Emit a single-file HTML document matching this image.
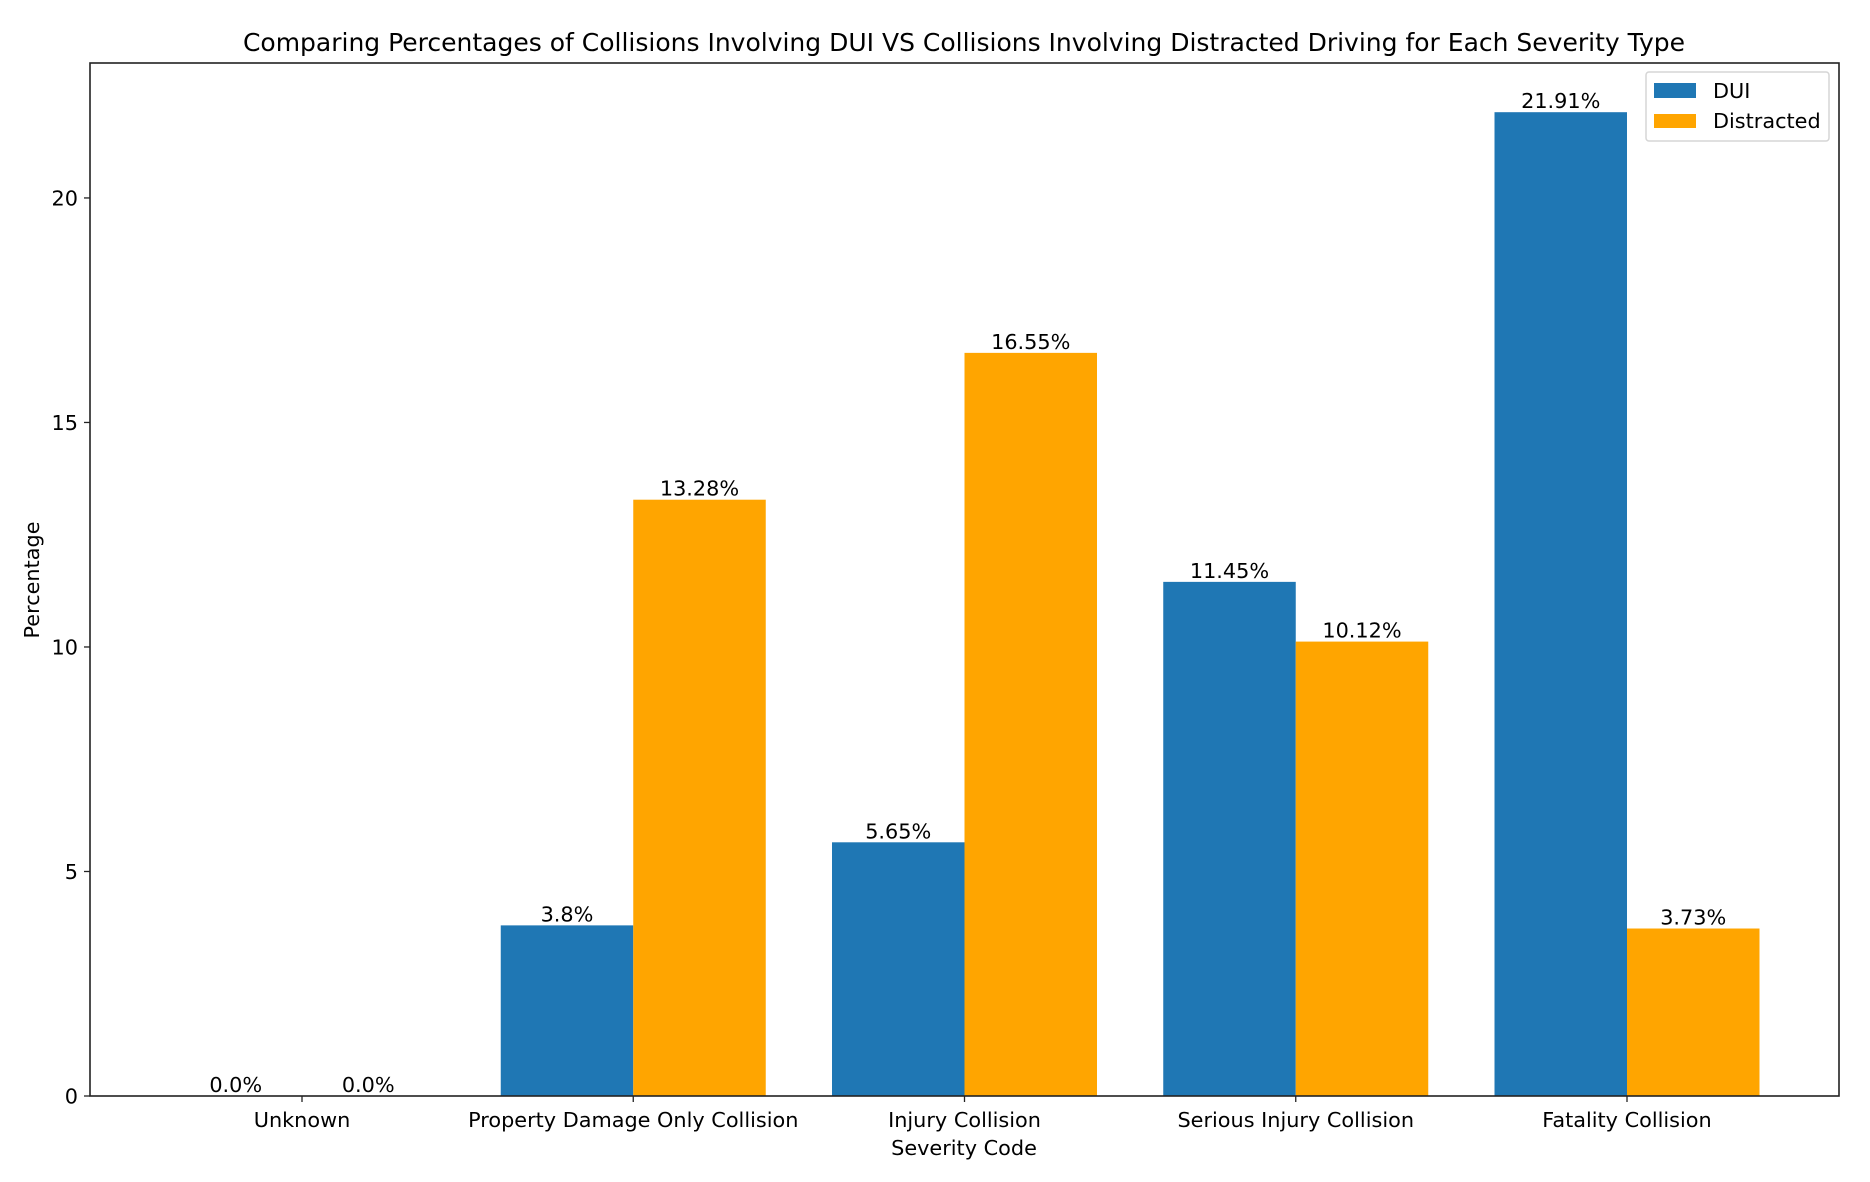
<!DOCTYPE html>
<html><head><meta charset="utf-8"><style>
body{margin:0;background:#fff}
svg text{font-family:"DejaVu Sans","Liberation Sans",sans-serif;fill:#000}
</style></head><body>
<svg width="1870" height="1177" xmlns="http://www.w3.org/2000/svg">
<rect width="1870" height="1177" fill="#fff"/>
<text x="964" y="51" font-size="25" text-anchor="middle">Comparing Percentages of Collisions Involving DUI VS Collisions Involving Distracted Driving for Each Severity Type</text>
<g id="bars"></g>
<g id="axes"></g>
<text x="964" y="1155" font-size="20.8" text-anchor="middle">Severity Code</text>
<text transform="translate(39,580) rotate(-90)" font-size="20.8" text-anchor="middle">Percentage</text>
<g>
<rect x="1646" y="72" width="183" height="69" rx="3" fill="#fff" stroke="#d5d5d5" stroke-width="1.5"/>
<rect x="1654" y="83" width="42" height="15" fill="#1f77b4"/>
<text x="1713" y="98" font-size="20.8">DUI</text>
<rect x="1654" y="114" width="42" height="14" fill="#ffa500"/>
<text x="1713" y="128" font-size="20.8">Distracted</text>
</g>
</svg>
<script>
const categories=["Unknown","Property Damage Only Collision","Injury Collision","Serious Injury Collision","Fatality Collision"];
const duiValues=[0.0,3.8,5.65,11.45,21.91];
const distractedValues=[0.0,13.28,16.55,10.12,3.73];
const yTicks=[0,5,10,15,20];
const L=90,R=1839,T=63,B=1096;
const xMin=-0.64,xMax=4.64,yMax=23.0055;
const sx=v=>L+(v-xMin)/(xMax-xMin)*(R-L);
const sy=v=>B-v/yMax*(B-T);
const NS="http://www.w3.org/2000/svg";
const bars=document.getElementById('bars'),axes=document.getElementById('axes');
function mk(tag,attrs,parent){const e=document.createElementNS(NS,tag);for(const k in attrs)e.setAttribute(k,attrs[k]);parent.appendChild(e);return e;}
const w=0.4;
function fmt(v){let s=String(Math.round(v*100)/100);if(!s.includes('.'))s+='.0';return s+'%';}
[[duiValues,'#1f77b4',-w/2,'dui'],[distractedValues,'#ffa500',w/2,'distracted']].forEach(([vals,col,off,nm])=>{
 vals.forEach((v,i)=>{
  const x0=sx(i+off-w/2),x1=sx(i+off+w/2);
  const r=mk('rect',{x:x0,y:sy(v),width:x1-x0,height:B-sy(v),fill:col},bars);
  
  
  const t=mk('text',{x:(x0+x1)/2,y:sy(v)-4,'font-size':20.8,'text-anchor':'middle'},bars);
  
  
  t.textContent=fmt(v);
 });
});
const fr=mk('rect',{x:L,y:T,width:R-L,height:B-T,fill:'none',stroke:'#222','stroke-width':1.6},axes);


yTicks.forEach(v=>{
 mk('line',{x1:L-6,x2:L,y1:sy(v),y2:sy(v),stroke:'#222','stroke-width':1.3},axes);
 const t=mk('text',{x:L-12,y:sy(v)+7.5,'font-size':20.8,'text-anchor':'end'},axes);
 
 
 t.textContent=v;
});
categories.forEach((c,i)=>{
 mk('line',{x1:sx(i),x2:sx(i),y1:B,y2:B+6,stroke:'#222','stroke-width':1.3},axes);
 const t=mk('text',{x:sx(i),y:B+31,'font-size':20.8,'text-anchor':'middle'},axes);
 
 
 t.textContent=c;
});
</script>
</body></html>
